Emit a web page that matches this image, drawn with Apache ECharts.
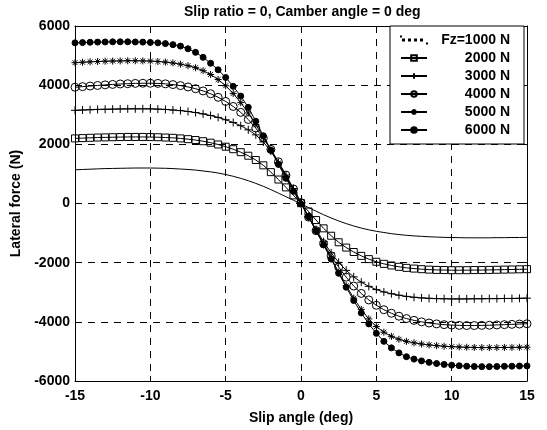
<!DOCTYPE html>
<html><head><meta charset="utf-8">
<script src="https://cdn.jsdelivr.net/npm/echarts@6/dist/echarts.min.js"></script>
<style>html,body{margin:0;padding:0;background:#fff}#chart{width:547px;height:430px}</style>
</head><body><div id="chart"></div>
<script>
const slipAngle = [-15,-14.5,-14,-13.5,-13,-12.5,-12,-11.5,-11,-10.5,-10,-9.5,-9,-8.5,-8,-7.5,-7,-6.5,-6,-5.5,-5,-4.5,-4,-3.5,-3,-2.5,-2,-1.5,-1,-0.5,0,0.5,1,1.5,2,2.5,3,3.5,4,4.5,5,5.5,6,6.5,7,7.5,8,8.5,9,9.5,10,10.5,11,11.5,12,12.5,13,13.5,14,14.5,15];
const fz1000 = [1140,1150,1160,1170,1180,1185,1190,1195,1200,1200,1200,1195,1190,1180,1165,1150,1130,1100,1070,1030,980,920,850,770,680,580,470,350,230,110,-10,-140,-260,-380,-490,-590,-680,-760,-830,-890,-940,-980,-1020,-1050,-1075,-1095,-1110,-1125,-1135,-1145,-1150,-1155,-1160,-1160,-1160,-1160,-1155,-1155,-1150,-1150,-1145];
const fz2000 = [2200,2210,2220,2230,2235,2240,2245,2250,2250,2250,2245,2240,2230,2220,2200,2175,2145,2105,2055,1995,1920,1835,1735,1615,1470,1290,1060,810,545,275,10,-270,-560,-840,-1090,-1310,-1490,-1640,-1770,-1880,-1970,-2040,-2095,-2140,-2175,-2200,-2220,-2235,-2245,-2250,-2255,-2255,-2255,-2250,-2250,-2245,-2240,-2235,-2230,-2225,-2220];
const fz3000 = [3150,3160,3170,3180,3185,3190,3195,3200,3200,3200,3200,3190,3180,3160,3140,3110,3075,3030,2975,2910,2830,2740,2630,2490,2320,2080,1770,1390,960,500,30,-440,-880,-1290,-1670,-1990,-2260,-2480,-2660,-2800,-2910,-2990,-3050,-3100,-3140,-3170,-3190,-3205,-3215,-3220,-3225,-3225,-3225,-3220,-3220,-3215,-3215,-3210,-3210,-3205,-3200];
const fz4000 = [3930,3950,3970,3990,4010,4025,4040,4050,4060,4065,4065,4060,4045,4020,3985,3940,3880,3805,3710,3590,3450,3280,3080,2840,2550,2210,1830,1410,960,490,30,-460,-920,-1360,-1770,-2150,-2490,-2790,-3040,-3260,-3440,-3590,-3710,-3810,-3890,-3950,-4000,-4040,-4070,-4095,-4110,-4120,-4125,-4125,-4120,-4115,-4105,-4095,-4085,-4075,-4065];
const fz5000 = [4760,4775,4790,4800,4810,4815,4820,4825,4825,4820,4815,4800,4780,4750,4710,4660,4590,4490,4360,4190,3980,3720,3410,3060,2670,2250,1810,1360,900,440,20,-450,-920,-1390,-1850,-2320,-2780,-3200,-3580,-3900,-4160,-4350,-4490,-4590,-4660,-4710,-4750,-4780,-4805,-4825,-4840,-4850,-4860,-4865,-4870,-4870,-4870,-4865,-4865,-4860,-4855];
const fz6000 = [5430,5440,5450,5455,5460,5465,5465,5465,5460,5455,5445,5430,5405,5370,5320,5230,5110,4940,4740,4520,4260,3960,3630,3250,2780,2290,1800,1320,850,410,-20,-450,-920,-1400,-1880,-2360,-2830,-3280,-3700,-4070,-4390,-4660,-4880,-5050,-5180,-5260,-5320,-5370,-5410,-5440,-5465,-5485,-5500,-5510,-5515,-5515,-5510,-5505,-5500,-5495,-5490];
const seriesNames = ['Fz=1000 N','2000 N','3000 N','4000 N','5000 N','6000 N'];
const seriesValues = [fz1000, fz2000, fz3000, fz4000, fz5000, fz6000];
const titleText = 'Slip ratio = 0, Camber angle = 0 deg';
const xName = 'Slip angle (deg)';
const yName = 'Lateral force (N)';

const FONT = '"Liberation Sans", Arial, sans-serif';
const symbols = [
  {symbol:'none', size:0, fill:'#000'},
  {symbol:'rect', size:7, fill:'transparent'},
  {symbol:'path://M0,5L10,5M5,0L5,10', size:8, fill:'transparent'},
  {symbol:'circle', size:8, fill:'transparent'},
  {symbol:'path://M5,0L5,10M0,5L10,5M1.5,1.5L8.5,8.5M8.5,1.5L1.5,8.5', size:7, fill:'transparent'},
  {symbol:'circle', size:6, fill:'#000'}
];

const series = seriesNames.map((name, i) => ({
  name: name,
  type: 'line',
  data: slipAngle.map((x, k) => [x, seriesValues[i][k]]),
  symbol: symbols[i].symbol,
  symbolSize: symbols[i].size,
  showSymbol: i > 0,
  showAllSymbol: true,
  lineStyle: {color:'#000', width:1},
  itemStyle: {color: symbols[i].fill, borderColor:'#000', borderWidth:1},
  emphasis: {disabled:true},
  animation: false,
  z: 3 + i
}));

const axisCommon = {
  axisLine: {show:true, onZero:false, lineStyle:{color:'#000', width:1}},
  axisTick: {show:true, inside:true, length:5, lineStyle:{color:'#000'}},
};

const dotIcon = 'path://M0,0h0.01v0.01h-0.01zM25.99,6.99h0.01v0.01h-0.01zM2,3h1v1h-1zM8,3h1v1h-1zM14,3h1v1h-1zM20,3h1v1h-1z';
const legendData = seriesNames.map((n, i) => i === 0
  ? {name: n, icon: dotIcon, itemStyle: {color: '#444'}}
  : {name: n});

const chart = echarts.init(document.getElementById('chart'));
chart.setOption({
  backgroundColor: '#fff',
  animation: false,
  title: {
    text: titleText, left: 184, top: 5, padding: 0,
    textStyle: {fontFamily: FONT, fontSize: 14, fontWeight: 'bold', color: '#000'}
  },
  grid: {left: 75, right: 20, top: 26, bottom: 45, containLabel: false},
  legend: {
    orient: 'vertical', right: 23, top: 26,
    backgroundColor: '#fff', borderColor: '#000', borderWidth: 1, borderRadius: 0,
    padding: [7, 14, 7, 10], itemGap: 4, itemWidth: 26, itemHeight: 7,
    data: legendData,
    formatter: n => '{a|' + n + '}',
    textStyle: {rich: {a: {width: 78, align: 'right', fontSize: 14, fontWeight: 'bold', fontFamily: FONT, color: '#000', lineHeight: 15}}}
  },
  xAxis: [
    Object.assign({
      type: 'value', min: -15, max: 15, interval: 5, position: 'bottom',
      axisLabel: {color:'#000', fontSize: 14, fontWeight: 'bold', fontFamily: FONT, margin: 8},
      splitLine: {show: true, lineStyle: {color: '#000', type: [7, 6], width: 1}},
      name: xName, nameLocation: 'middle', nameGap: 30,
      nameTextStyle: {color:'#000', fontSize: 14, fontWeight: 'bold', fontFamily: FONT}
    }, axisCommon),
    Object.assign({
      type: 'value', min: -15, max: 15, interval: 5, position: 'top',
      axisLabel: {show: false}, splitLine: {show: false}
    }, axisCommon)
  ],
  yAxis: [
    Object.assign({
      type: 'value', min: -6000, max: 6000, interval: 2000, position: 'left',
      axisLabel: {color:'#000', fontSize: 14, fontWeight: 'bold', fontFamily: FONT, margin: 5, formatter: v => String(v)},
      splitLine: {show: true, lineStyle: {color: '#000', type: [7, 6], width: 1}},
      name: yName, nameLocation: 'middle', nameGap: 52, nameMoveOverlap: false,
      nameTextStyle: {color:'#000', fontSize: 14, fontWeight: 'bold', fontFamily: FONT}
    }, axisCommon),
    Object.assign({
      type: 'value', min: -6000, max: 6000, interval: 2000, position: 'right',
      axisLabel: {show: false}, splitLine: {show: false}
    }, axisCommon)
  ],
  series: series
});
</script></body></html>
